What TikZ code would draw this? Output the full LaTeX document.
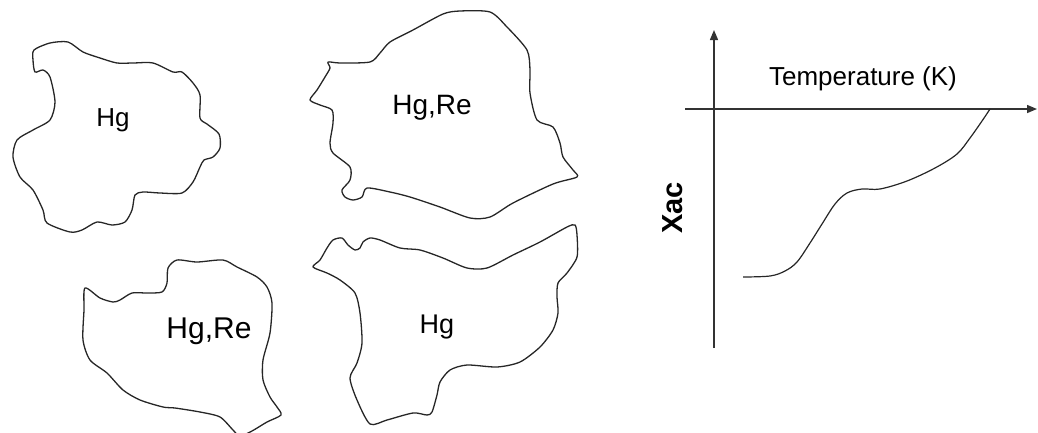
\documentclass[tikz,border=0pt]{standalone}
\usepackage{fontspec}
\setmainfont{Liberation Sans}
\usetikzlibrary{arrows.meta}
\tikzset{
  blob/.style={draw=black!85, line width=1.3pt, line join=round},
  axis/.style={draw=black!80, line width=1.4pt, -{Triangle[length=10pt,width=8pt]}},
  lbl/.style={font=\fontsize{26}{30}\selectfont, text=black}
}
\begin{document}
\begin{tikzpicture}[x=1pt,y=-1pt]
\useasboundingbox (0,0) rectangle (1038,432);
\clip (0,0) rectangle (1038,432);
% blob 1 (Hg)
\draw[blob] plot[smooth cycle, tension=0.45] coordinates {
 (34,50) (50,43) (68,42) (83,52) (100,58) (117,63) (133,63) (153,63) (173,72) (182,72)
 (193,83) (200,95) (200,118) (207,124) (219,134) (220,148) (213,157) (204,160) (200,167)
 (193,182) (182,193) (160,193) (143,192) (135,195) (132,210) (125,222) (112,225) (97,222)
 (82,230) (70,232) (47,223) (43,210) (33,190) (20,177) (13,157) (17,140) (33,130) (50,120)
 (55,102) (50,77) (43,70) (35,72) (33,60)};
\node[lbl] (l1) at (113,120) {Hg};
% blob 2 (Hg,Re)
\draw[blob] plot[smooth cycle, tension=0.45] coordinates {
 (328,62) (340,63) (370,62) (380,53) (390,42) (413,30) (443,14) (460,11) (490,12) (507,27)
 (527,50) (530,70) (530,93) (537,120) (553,127) (560,143) (563,157) (573,170) (577,177)
 (553,184) (513,203) (490,217) (470,218) (440,207) (410,197) (390,192) (367,188) (362,197)
 (353,200) (345,197) (342,190) (350,180) (350,167) (333,153) (330,143) (333,123) (332,110)
 (320,105) (310,100) (317,90) (325,77) (330,68)};
\node[lbl, font=\fontsize{28}{32}\selectfont] (l2) at (432,108) {Hg,Re};
% blob 3 (Hg,Re)
\draw[blob] plot[smooth cycle, tension=0.45] coordinates {
 (85,288) (100,298) (113,302) (120,300) (132,293) (147,293) (162,292) (167,283) (168,268)
 (177,260) (197,262) (223,260) (237,267) (257,277) (267,287) (272,303) (270,333) (263,360)
 (263,380) (270,397) (277,407) (281,415) (267,422) (252,431) (240,436) (233,430) (220,417)
 (200,412) (175,408) (163,407) (140,400) (123,390) (107,373) (90,360) (83,340) (84,310)};
\node[lbl, font=\fontsize{30}{34}\selectfont] (l3) at (209,331) {Hg,Re};
% blob 4 (Hg)
\draw[blob] plot[smooth cycle, tension=0.45] coordinates {
 (313,267) (320,260) (327,248) (333,240) (342,238) (348,245) (355,250) (360,248) (363,242)
 (370,238) (380,240) (400,248) (420,250) (443,258) (467,268) (487,268) (513,255) (540,242)
 (567,227) (575,225) (577,235) (577,257) (567,273) (558,283) (557,297) (558,313) (553,330)
 (540,347) (520,362) (497,367) (467,365) (450,370) (440,382) (437,395) (432,412) (427,415)
 (413,413) (387,420) (370,424) (357,400) (350,378) (357,363) (362,343) (360,313) (355,293)
 (340,280) (327,273)};
\node[lbl, font=\fontsize{27}{31}\selectfont] (l4) at (437,327) {Hg};
% graph
\coordinate (yb) at (714,348);
\coordinate (yt) at (714,30);
\coordinate (xl) at (685,109);
\coordinate (xr) at (1037,109);
\draw[axis] (yb) -- (yt);
\draw[axis] (xl) -- (xr);
\node[lbl] (tlab) at (863,79) {Temperature (K)};
\node[font=\bfseries\fontsize{29}{33}\selectfont, rotate=90] (ylab) at (673,208) {Xac};
\draw[line width=1.2pt, black!85] plot[smooth, tension=0.55] coordinates {
 (743,277) (770,276) (785,271) (797,262) (810,243) (822,224) (835,204) (847,193) (862,189)
 (880,189) (907,181) (935,168) (957,154) (970,138) (982,121) (990,109)};
\end{tikzpicture}
\end{document}
